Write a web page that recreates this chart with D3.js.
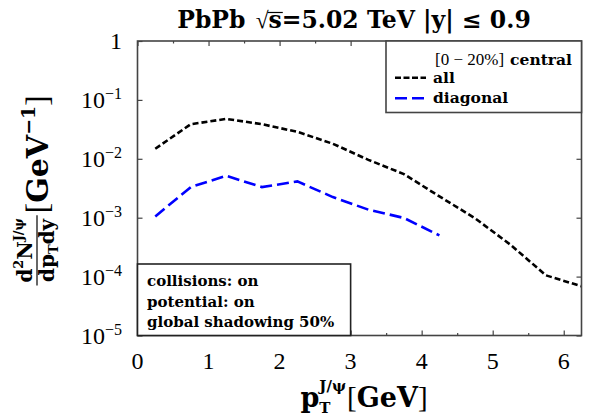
<!DOCTYPE html>
<html>
<head>
<meta charset="utf-8">
<script src="https://cdn.jsdelivr.net/npm/d3@7"></script>
<style>
  html, body { margin: 0; padding: 0; background: #fff; }
  svg { display: block; }
  svg text { white-space: pre; }
</style>
</head>
<body>
<svg id="chart" width="592" height="419"></svg>
<script>
// J/psi spectrum, PbPb 5.02 TeV, 0-20% central
const pt = [0.25, 0.75, 1.25, 1.75, 2.25, 2.75, 3.25, 3.75, 4.25, 4.75, 5.25, 5.75, 6.25];
const allYield = [0.0148, 0.0387, 0.0476, 0.0387, 0.0287, 0.0180, 0.0096, 0.0055, 0.0023, 0.00098, 0.000348, 0.000105, 0.0000686];
const diagonalPt = [0.25, 0.75, 1.25, 1.75, 2.25, 2.75, 3.25, 3.75, 4.25];
const diagonalYield = [0.00105, 0.00331, 0.00515, 0.00331, 0.00413, 0.00224, 0.00137, 0.00099, 0.0005];

const xTicks = [0, 1, 2, 3, 4, 5, 6];
const xMinorTicks = [0.5, 1.5, 2.5, 3.5, 4.5, 5.5];
const yTicks = [1, 1e-1, 1e-2, 1e-3, 1e-4, 1e-5];
const yTickExp = ["", "−1", "−2", "−3", "−4", "−5"];
const infoLines = ["collisions: on", "potential: on", "global shadowing 50%"];

const SERIF = "'Liberation Serif', 'Times New Roman', serif";
const BOLD = "'DejaVu Serif', serif";

const svg = d3.select("#chart");
const M = { left: 137.5, right: 581.5, top: 41, bottom: 335.5 };

const x = d3.scaleLinear().domain([0, 6.25]).range([M.left, M.right]);
const y = d3.scaleLog().domain([1e-5, 1]).range([M.bottom, M.top]);

// Lay out a run of text pieces left to right; returns total advance
function layout(parent, items, x0, y0) {
  let cx = x0;
  items.forEach(it => {
    if (it.stack) {
      let w = 0;
      it.stack.forEach(s => {
        const t = parent.append("text")
          .attr("x", cx).attr("y", y0 + s.dy)
          .style("font-family", s.bold ? BOLD : SERIF)
          .style("font-weight", s.bold ? "bold" : "normal")
          .style("font-size", s.size + "px")
          .text(s.t);
        w = Math.max(w, t.node().getComputedTextLength());
      });
      cx += w + (it.gap || 0);
      return;
    }
    const t = parent.append("text")
      .attr("x", cx).attr("y", y0 + (it.dy || 0))
      .style("font-family", it.bold ? BOLD : SERIF)
      .style("font-weight", it.bold ? "bold" : "normal")
      .style("font-size", it.size + "px")
      .text(it.t);
    const w = t.node().getComputedTextLength();
    if (it.overline) {
      parent.append("line")
        .attr("x1", cx - 1).attr("x2", cx + w + 1)
        .attr("y1", y0 + (it.dy || 0) - it.size * 0.66)
        .attr("y2", y0 + (it.dy || 0) - it.size * 0.66)
        .attr("stroke", "#000").attr("stroke-width", 1.2);
    }
    cx += w + (it.gap || 0);
  });
  return cx - x0;
}

// Title
const title = svg.append("g");
const tw = layout(title, [
  { t: "PbPb ", size: 23.5, bold: true, gap: 2 },
  { t: "√", size: 23.5 },
  { t: "s", size: 23.5, bold: true, overline: true },
  { t: "=5.02 TeV |y| ≤ 0.9", size: 23.5, bold: true }
], 0, 28);
title.attr("transform", `translate(${354 - tw / 2},0)`);

// Curves
const line = d3.line().x(d => x(d[0])).y(d => y(d[1]));
svg.append("path")
  .datum(pt.map((p, i) => [p, allYield[i]]))
  .attr("d", line).attr("fill", "none")
  .attr("stroke", "#000").attr("stroke-width", 2.6)
  .attr("stroke-dasharray", "6,3");
svg.append("path")
  .datum(diagonalPt.map((p, i) => [p, diagonalYield[i]]))
  .attr("d", line).attr("fill", "none")
  .attr("stroke", "#0000ff").attr("stroke-width", 2.6)
  .attr("stroke-dasharray", "12,5");

// Axis ticks on all four sides, pointing inward
function ticks(axis, transform) {
  const g = svg.append("g").attr("transform", transform).call(axis);
  g.select(".domain").remove();
  g.selectAll("line").attr("stroke", "#444").attr("stroke-width", 1.2);
}
ticks(d3.axisBottom(x).tickValues(xTicks).tickSize(-5).tickFormat(""), `translate(0,${M.bottom})`);
ticks(d3.axisBottom(x).tickValues(xMinorTicks).tickSize(-2.5).tickFormat(""), `translate(0,${M.bottom})`);
ticks(d3.axisTop(x).tickValues(xTicks).tickSize(-5).tickFormat(""), `translate(0,${M.top})`);
ticks(d3.axisTop(x).tickValues(xMinorTicks).tickSize(-2.5).tickFormat(""), `translate(0,${M.top})`);
ticks(d3.axisLeft(y).tickValues(yTicks).tickSize(-5).tickFormat(""), `translate(${M.left},0)`);
ticks(d3.axisRight(y).tickValues(yTicks).tickSize(-5).tickFormat(""), `translate(${M.right},0)`);

// Frame
svg.append("rect")
  .attr("x", M.left).attr("y", M.top)
  .attr("width", M.right - M.left).attr("height", M.bottom - M.top)
  .attr("fill", "none").attr("stroke", "#444").attr("stroke-width", 1.6);

// X tick labels
svg.append("g").selectAll("text").data(xTicks).join("text")
  .attr("x", d => x(d)).attr("y", 369)
  .attr("text-anchor", "middle")
  .style("font-family", SERIF).style("font-size", "24px")
  .text(d => d);

// Y tick labels (powers of ten)
yTicks.forEach((v, i) => {
  const g = svg.append("g");
  const ty = y(v);
  if (!yTickExp[i]) {
    g.append("text").attr("x", 122).attr("y", ty + 8)
      .attr("text-anchor", "end")
      .style("font-family", SERIF).style("font-size", "24px").text("1");
    return;
  }
  const w = layout(g, [
    { t: "10", size: 24 },
    { t: yTickExp[i], size: 16, dy: -9 }
  ], 0, ty + 8);
  g.attr("transform", `translate(${122 - w},0)`);
});

// X axis label
const xl = svg.append("g");
const xw = layout(xl, [
  { t: "p", size: 27, bold: true },
  { stack: [
      { t: "J/ψ", size: 15, bold: true, dy: -16 },
      { t: "T", size: 15, bold: true, dy: 6 }
    ], gap: 1 },
  { t: "[", size: 29 },
  { t: "GeV", size: 27, bold: true },
  { t: "]", size: 29 }
], 0, 407);
xl.attr("transform", `translate(${364 - xw / 2},0)`);

// Y axis label, rotated: fraction then bracketed unit
const yl = svg.append("g").attr("transform", "translate(37,190.5) rotate(-90)");
const num = yl.append("g"), den = yl.append("g"), unit = yl.append("g");
const nw = layout(num, [
  { t: "d", size: 20, bold: true },
  { t: "2", size: 13, bold: true, dy: -9 },
  { t: "N", size: 20, bold: true },
  { t: "J/ψ", size: 13, bold: true, dy: -9 }
], 0, -5);
const dw = layout(den, [
  { t: "dp", size: 20, bold: true },
  { t: "T", size: 13, bold: true, dy: 4 },
  { t: "dy", size: 20, bold: true }
], 0, 17);
const fw = Math.max(nw, dw) + 6;
const uw = layout(unit, [
  { t: "[", size: 31 },
  { t: "GeV", size: 30, bold: true },
  { t: "−1", size: 19, bold: true, dy: -13 },
  { t: "]", size: 31 }
], 0, 11);
const total = fw + 2 + uw;
const u0 = -total / 2;
num.attr("transform", `translate(${u0 + (fw - nw) / 2},0)`);
den.attr("transform", `translate(${u0 + (fw - dw) / 2},0)`);
yl.append("line")
  .attr("x1", u0).attr("x2", u0 + fw).attr("y1", 0).attr("y2", 0)
  .attr("stroke", "#000").attr("stroke-width", 1.2);
unit.attr("transform", `translate(${u0 + fw + 2},0)`);

// Legend
const leg = svg.append("g");
leg.append("rect")
  .attr("x", 386).attr("y", M.top).attr("width", M.right - 386).attr("height", 112.5 - M.top)
  .attr("fill", "#fff").attr("stroke", "#444").attr("stroke-width", 1.6);
layout(leg, [
  { t: "[0 − 20%]", size: 17, gap: 6 },
  { t: "central", size: 15.5, bold: true }
], 435, 65);
const legendItems = [
  { label: "all", color: "#000", dash: "6,2.5", y: 77.7 },
  { label: "diagonal", color: "#0000ff", dash: "12,5", y: 98.3 }
];
legendItems.forEach(d => {
  leg.append("line")
    .attr("x1", 395).attr("x2", 426).attr("y1", d.y).attr("y2", d.y)
    .attr("stroke", d.color).attr("stroke-width", 2.6).attr("stroke-dasharray", d.dash);
  leg.append("text").attr("x", 433).attr("y", d.y + 5)
    .style("font-family", BOLD).style("font-weight", "bold").style("font-size", "15.5px")
    .text(d.label);
});

// Settings box
const info = svg.append("g");
info.append("rect")
  .attr("x", M.left).attr("y", 264).attr("width", x(3) - M.left).attr("height", M.bottom - 264)
  .attr("fill", "#fff").attr("stroke", "#222").attr("stroke-width", 1.6);
info.selectAll("text").data(infoLines).join("text")
  .attr("x", 147).attr("y", (d, i) => 286 + i * 20.7)
  .style("font-family", BOLD).style("font-weight", "bold").style("font-size", "15px")
  .text(d => d);
</script>
</body>
</html>
